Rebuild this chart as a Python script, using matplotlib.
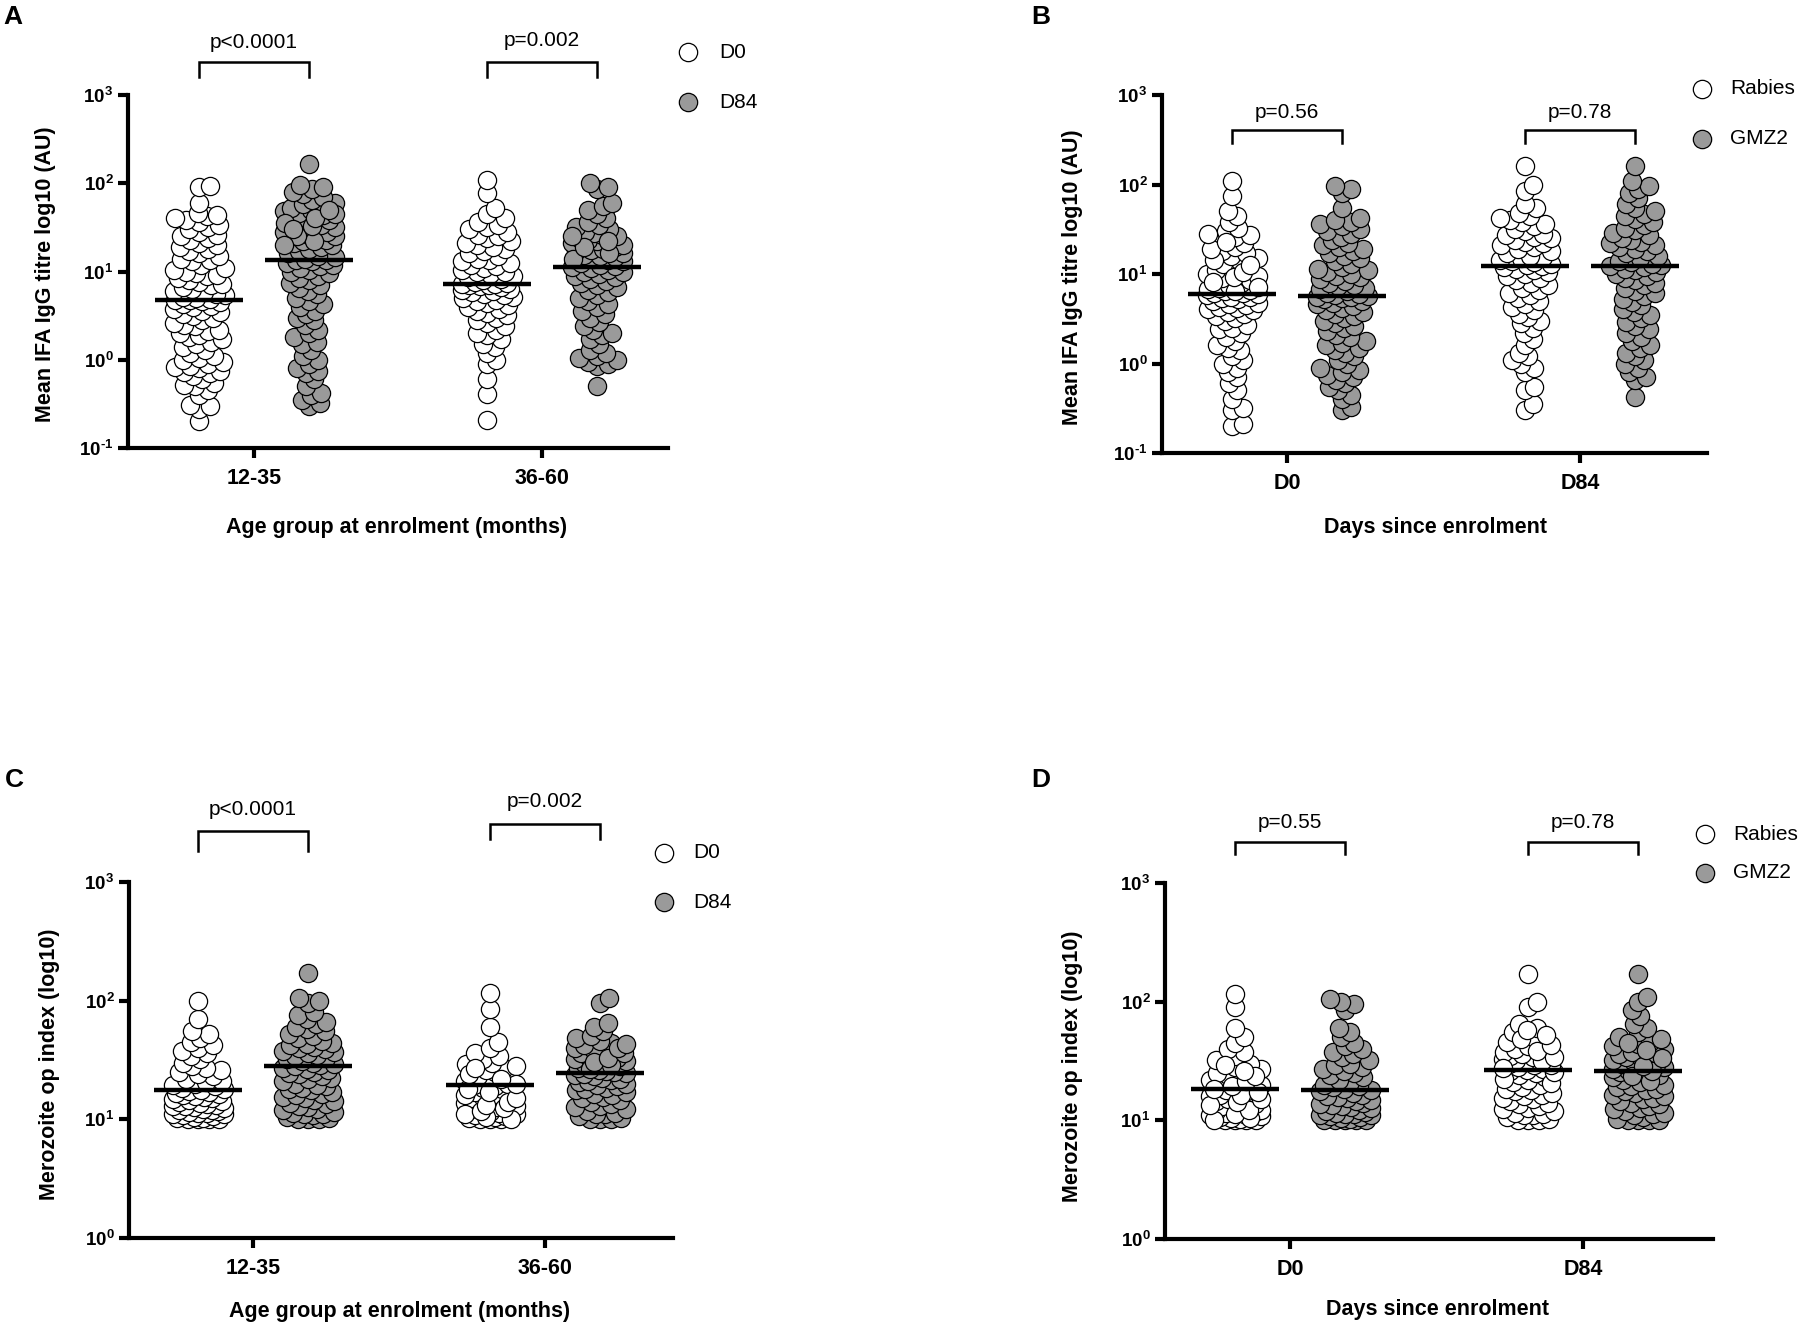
import numpy as np
import matplotlib
matplotlib.use('Agg')
import matplotlib.pyplot as plt
from matplotlib.ticker import NullLocator

plt.rcParams['font.family'] = ['Liberation Sans', 'DejaVu Sans']
plt.rcParams['mathtext.fontset'] = 'custom'
plt.rcParams['mathtext.rm'] = 'Liberation Sans:bold'
plt.rcParams['mathtext.bf'] = 'Liberation Sans:bold'
plt.rcParams['mathtext.it'] = 'Liberation Sans:bold'

# ---------------- data ----------------
age_groups = ['12-35', '36-60']
days = ['D0', 'D84']
legend_age = ['D0', 'D84']
legend_arm = ['Rabies', 'GMZ2']

# Panel A : mean IFA IgG titre (AU) by age group
A_d0_12_35 = [0.2, 0.28, 0.3, 0.31, 0.4, 0.45, 0.5, 0.52, 0.55, 0.6,
              0.65, 0.7, 0.72, 0.75, 0.8, 0.82, 0.85, 0.9, 0.95, 1.0,
              1.05, 1.1, 1.2, 1.3, 1.4, 1.5, 1.6, 1.7, 1.8, 1.9,
              2.0, 2.1, 2.2, 2.4, 2.5, 2.6, 2.8, 3.0, 3.1, 3.3,
              3.5, 3.6, 3.8, 4.0, 4.1, 4.3, 4.5, 4.6, 4.7, 4.8,
              4.9, 5.0, 5.2, 5.4, 5.6, 5.8, 6.0, 6.3, 6.6, 7.0,
              7.3, 7.6, 8.0, 8.5, 8.8, 9.2, 9.6, 10, 10.5, 11,
              12, 13, 13.5, 14, 15, 16, 17, 18, 19, 20,
              21, 23, 24, 25, 26, 28, 30, 32, 34, 36,
              38, 40, 42, 44, 46, 60, 90, 93]
A_d84_12_35 = [0.3, 0.32, 0.35, 0.4, 0.42, 0.5, 0.6, 0.7, 0.75, 0.8,
               0.9, 1.0, 1.1, 1.3, 1.5, 1.6, 1.8, 2.0, 2.2, 2.5,
               2.8, 3.0, 3.3, 3.6, 4.0, 4.3, 4.6, 5.0, 5.5, 6.0,
               6.5, 7.0, 7.5, 8.0, 8.5, 9.0, 9.5, 10, 10.5, 11,
               11.5, 12, 12.5, 13, 13.5, 13.5, 14, 14.5, 15, 16,
               17, 18, 19, 20, 21, 22, 23, 24, 25, 26,
               27, 28, 30, 32, 34, 36, 38, 40, 42, 44,
               46, 48, 50, 52, 55, 58, 60, 65, 70, 75,
               80, 85, 90, 95, 166, 22, 25, 28, 33, 35,
               40, 45, 50, 30, 20]
A_d0_36_60 = [0.21, 0.41, 0.6, 0.9, 1.0, 1.2, 1.4, 1.5, 1.7, 1.9,
              2.0, 2.2, 2.4, 2.6, 2.8, 3.0, 3.2, 3.4, 3.6, 3.8,
              4.0, 4.2, 4.4, 4.6, 4.8, 5.0, 5.2, 5.4, 5.6, 5.8,
              6.0, 6.2, 6.4, 6.6, 6.8, 7.0, 7.1, 7.2, 7.3, 7.5,
              7.7, 8.0, 8.3, 8.6, 9.0, 9.4, 9.8, 10, 10.5, 11,
              11.5, 12, 12.5, 13, 13.5, 14, 15, 16, 17, 18,
              19, 20, 21, 22, 24, 25, 26, 28, 30, 32,
              34, 36, 40, 45, 53, 78, 110]
A_d84_36_60 = [0.5, 0.85, 0.9, 0.95, 1.0, 1.05, 1.1, 1.2, 1.3, 1.5,
               1.7, 1.9, 2.0, 2.2, 2.4, 2.7, 3.0, 3.3, 3.6, 4.0,
               4.3, 4.6, 5.0, 5.4, 5.8, 6.2, 6.6, 7.0, 7.4, 7.8,
               8.2, 8.6, 9.0, 9.4, 9.8, 10, 10.5, 11, 11.3, 11.5,
               12, 12.5, 13, 13.5, 14, 14.5, 15, 15.5, 16, 17,
               17.5, 18, 19, 20, 21, 22, 23, 24, 25, 26,
               27, 28, 30, 32, 34, 36, 40, 45, 50, 55,
               60, 85, 90, 100, 14, 16, 19, 22, 25]
A_lines = [4.8, 13.5, 7.2, 11.3]

# Panel B : mean IFA IgG titre (AU) by arm
B_rab_d0 = [0.2, 0.21, 0.3, 0.32, 0.4, 0.5, 0.6, 0.7, 0.8, 0.9,
            1.0, 1.1, 1.2, 1.4, 1.5, 1.6, 1.8, 2.0, 2.2, 2.4,
            2.5, 2.7, 3.0, 3.2, 3.4, 3.6, 3.8, 4.0, 4.1, 4.2,
            4.3, 4.5, 4.6, 4.8, 5.0, 5.2, 5.4, 5.5, 5.6, 5.8,
            6.0, 6.1, 6.2, 6.4, 6.6, 6.8, 7.0, 7.5, 8.0, 8.5,
            9.0, 9.5, 10, 11, 12, 13, 14, 15, 16, 17,
            18, 20, 22, 24, 26, 27, 30, 33, 38, 45,
            50, 74, 110, 6.5, 7.2, 8.2, 9.2, 10.5, 12.5, 14.5,
            19, 23, 28]
B_gmz_d0 = [0.3, 0.33, 0.4, 0.45, 0.5, 0.55, 0.6, 0.65, 0.7, 0.75,
            0.8, 0.85, 0.9, 1.0, 1.1, 1.2, 1.3, 1.4, 1.5, 1.6,
            1.7, 1.8, 2.0, 2.1, 2.3, 2.5, 2.6, 2.8, 3.0, 3.2,
            3.4, 3.6, 3.8, 4.0, 4.2, 4.4, 4.6, 4.8, 5.0, 5.2,
            5.4, 5.5, 5.6, 5.7, 5.8, 6.0, 6.2, 6.5, 6.8, 7.0,
            7.3, 7.6, 8.0, 8.4, 8.8, 9.2, 9.6, 10, 10.5, 11,
            11.5, 12, 13, 14, 15, 16, 17, 18, 19, 20,
            21, 22, 24, 26, 28, 30, 32, 34, 36, 38,
            40, 42, 55, 80, 90, 95]
B_rab_d84 = [0.3, 0.35, 0.5, 0.55, 0.8, 0.9, 1.0, 1.1, 1.2, 1.3,
             1.6, 1.9, 2.2, 2.5, 2.8, 3.0, 3.3, 3.6, 4.0, 4.3,
             4.6, 5.0, 5.4, 5.8, 6.2, 6.6, 7.0, 7.5, 8.0, 8.5,
             9.0, 9.5, 10, 10.5, 11, 11.5, 12, 12.3, 12.6, 13,
             13.5, 14, 14.5, 15, 15.5, 16, 17, 18, 19, 20,
             21, 22, 23, 24, 25, 26, 27, 28, 30, 32,
             34, 36, 38, 40, 42, 45, 48, 55, 60, 85,
             100, 160]
B_gmz_d84 = [0.42, 0.65, 0.7, 0.8, 0.9, 1.0, 1.1, 1.2, 1.3, 1.5,
             1.6, 1.8, 2.0, 2.2, 2.4, 2.6, 2.9, 3.2, 3.5, 3.8,
             4.1, 4.5, 4.9, 5.3, 5.7, 6.1, 6.5, 7.0, 7.5, 8.0,
             8.5, 9.0, 9.5, 10, 10.5, 11, 11.5, 12, 12.3, 12.6,
             13, 13.5, 14, 15, 16, 17, 18, 19, 20, 21,
             22, 23, 24, 25, 27, 29, 31, 33, 35, 38,
             41, 44, 47, 50, 55, 60, 70, 80, 90, 95,
             110, 160]
B_lines = [6.0, 5.7, 12.3, 12.3]

# Panel C : merozoite opsonic phagocytosis index by age group
C_d0_12_35 = [10, 10, 10, 10, 10.2, 10.3, 10.5, 10.6, 10.8, 11,
              11, 11.2, 11.4, 11.5, 11.7, 12, 12, 12.2, 12.5, 12.8,
              13, 13, 13.3, 13.5, 13.8, 14, 14.2, 14.5, 14.8, 15,
              15.3, 15.6, 16, 16.3, 16.7, 17, 17.3, 17.6, 18, 18.5,
              19, 19.5, 20, 20.5, 21, 22, 23, 24, 25, 26,
              27, 28, 30, 32, 34, 36, 38, 40, 42, 45,
              48, 52, 55, 70, 100]
C_d84_12_35 = [10, 10, 10, 10.2, 10.5, 10.8, 11, 11, 11.3, 11.6,
               12, 12.3, 12.6, 13, 13.4, 13.8, 14.2, 14.6, 15, 15.5,
               16, 16.5, 17, 17.5, 18, 18.5, 19, 19.5, 20, 21,
               22, 22.5, 23, 24, 24.5, 25, 26, 26.5, 27, 28,
               28.5, 29, 30, 31, 32, 33, 34, 35, 36, 37,
               38, 39, 40, 41, 42, 43, 44, 46, 48, 50,
               52, 55, 58, 60, 63, 66, 70, 75, 80, 95,
               100, 105, 170]
C_d0_36_60 = [10, 10, 10, 10.2, 10.4, 10.6, 10.8, 11, 11.3, 11.6,
              12, 12.3, 12.7, 13, 13.4, 13.8, 14.2, 14.6, 15, 15.5,
              16, 16.5, 17, 17.5, 18, 18.5, 19, 19.5, 20, 21,
              22, 23, 24, 25, 26, 27, 28, 29, 30, 32,
              34, 36, 40, 45, 60, 85, 115, 10.1, 10.5, 11.1,
              11.8, 12.5, 13.2, 14, 15, 16, 17, 18, 20, 22,
              24, 27]
C_d84_36_60 = [10, 10, 10, 10.3, 10.6, 11, 11, 11.4, 11.8, 12.2,
               12.6, 13, 13.5, 14, 14.5, 15, 15.5, 16, 16.5, 17,
               17.5, 18, 18.5, 19, 19.5, 20, 20.5, 21, 21.5, 22,
               22.5, 23, 23.5, 24, 24.5, 25, 25.5, 26, 27, 28,
               29, 30, 31, 32, 33, 34, 35, 36, 37, 38,
               39, 40, 42, 44, 46, 48, 50, 55, 60, 65,
               95, 105, 26.5, 28.5, 30.5, 33, 36, 40, 43]
C_lines = [17.5, 28, 19.5, 24.5]

# Panel D : merozoite opsonic phagocytosis index by arm
D_rab_d0 = [10, 10, 10, 10, 10.2, 10.4, 10.6, 10.8, 11, 11.2,
            11.5, 11.8, 12, 12.3, 12.6, 13, 13.3, 13.7, 14, 14.5,
            15, 15.5, 16, 16.5, 17, 17.5, 18, 18.5, 19, 20,
            21, 22, 23, 24, 25, 27, 28, 30, 32, 35,
            38, 40, 45, 50, 60, 90, 115, 10.1, 10.5, 11.4,
            12.2, 13.5, 14.2, 15.2, 16.2, 17.2, 18.2, 19.5, 21.5, 23.5,
            26, 29]
D_gmz_d0 = [10, 10, 10, 10, 10.1, 10.2, 10.4, 10.6, 10.8, 11,
            11, 11.2, 11.4, 11.6, 11.8, 12, 12.3, 12.6, 12.9, 13.2,
            13.5, 13.8, 14.1, 14.5, 14.9, 15.3, 15.7, 16.1, 16.5, 17,
            17.5, 18, 18.5, 19, 19.5, 20, 21, 22, 23, 24,
            25, 26, 27, 28, 29, 30, 32, 34, 36, 38,
            40, 42, 45, 50, 55, 60, 85, 95, 100, 105]
D_rab_d84 = [10, 10, 10, 10.3, 10.6, 11, 11, 11.3, 11.6, 12,
             12.4, 12.8, 13.2, 13.6, 14, 14.5, 15, 15.5, 16, 16.5,
             17, 17.5, 18, 18.5, 19, 20, 21, 22, 23, 24,
             25, 26, 26.5, 27, 28, 29, 30, 31, 32, 33,
             34, 35, 36, 37, 38, 40, 42, 44, 46, 50,
             55, 60, 65, 90, 100, 170, 20.5, 22.5, 25.5, 27.5,
             29.5, 31.5, 34.5, 38.5, 43, 48, 52, 58]
D_gmz_d84 = [10, 10, 10, 10, 10.3, 10.6, 11, 11.3, 11.6, 12,
             12.4, 12.8, 13.2, 13.6, 14, 14.5, 15, 15.5, 16, 16.5,
             17, 17.5, 18, 18.5, 19, 19.5, 20, 21, 22, 23,
             24, 25, 25.5, 26, 26.5, 27, 28, 29, 30, 31,
             32, 33, 34, 35, 36, 37, 38, 40, 42, 44,
             46, 48, 50, 55, 60, 65, 75, 85, 100, 110,
             170, 21.5, 23.5, 25.8, 28.5, 33.5, 39, 45]
D_lines = [18.5, 18.0, 26.5, 26.0]

pvals_A = ['p<0.0001', 'p=0.002']
pvals_B = ['p=0.56', 'p=0.78']
pvals_C = ['p<0.0001', 'p=0.002']
pvals_D = ['p=0.55', 'p=0.78']

# ---------------- styling / layout ----------------
W, H = 1801, 1325
fig = plt.figure(figsize=(W / 100, H / 100), dpi=100)
WHITE, GREY = '#ffffff', '#9a9a9a'
MS = 172  # marker area (pt^2)


def fx(x):
    return x / W


def fy(y):
    return 1 - y / H


def swarm(ypx, thr=9.5, maxw=26.0, step=1.5):
    n = len(ypx)
    order = np.argsort(ypx, kind='stable')
    cands = [0.0]
    k = 1
    while k * step <= maxw + 1e-9:
        cands += [k * step, -k * step]
        k += 1
    cands = np.array(cands)
    px, py = [], []
    out = np.zeros(n)
    for i in order:
        y = ypx[i]
        c = 0.0
        if px:
            PX = np.array(px)
            PY = np.array(py)
            near = np.abs(PY - y) < thr
            if near.any():
                dist = np.sqrt((cands[:, None] - PX[near][None, :]) ** 2 +
                               (y - PY[near][None, :]) ** 2).min(axis=1)
                ok = np.where(dist >= thr)[0]
                c = cands[ok[0]] if len(ok) else cands[np.argmax(dist)]
        out[i] = c
        px.append(c)
        py.append(y)
    return out


def panel(rect, cat_px, cat_labels, groups, lines, ylim, exps, ylabel, ylab_pos,
          xlabel, xlab_pos, letter, letter_pos, leg_labels, leg_pts, leg_tx,
          brackets, pvals):
    xl, xr, yt, yb = rect
    ax = fig.add_axes([fx(xl), fy(yb), (xr - xl) / W, (yb - yt) / H])
    ax.set_yscale('log')
    ax.set_ylim(*ylim)
    p0, p1 = cat_px
    u = float(p1 - p0)
    ax.set_xlim((xl - p0) / u, (xr - p0) / u)
    off = 55.0 / u
    centers = []
    for gi, vals in enumerate(groups):
        cat = gi // 2
        side = -1 if gi % 2 == 0 else 1
        face = WHITE if gi % 2 == 0 else GREY
        xc = cat + side * off
        centers.append(xc)
        v = np.asarray(vals, dtype=float)
        ypx = ax.transData.transform(np.column_stack([np.full(len(v), xc), v]))[:, 1]
        dx = swarm(ypx)
        ax.scatter(xc + dx / u, v, s=MS, facecolor=face, edgecolor='black',
                   linewidths=0.9, zorder=3, clip_on=False)
        ax.plot([xc - 44 / u, xc + 44 / u], [lines[gi]] * 2, color='black',
                lw=3.2, zorder=5, solid_capstyle='butt')
    # axes style
    for s in ['top', 'right']:
        ax.spines[s].set_visible(False)
    for s in ['left', 'bottom']:
        ax.spines[s].set_linewidth(3)
        ax.spines[s].set_capstyle('projecting')
    ax.set_xticks([0, 1])
    ax.set_xticklabels(cat_labels, fontsize=15.5, fontweight='bold')
    ax.set_yticks([10.0 ** e for e in exps])
    labs = []
    for e in exps:
        if e < 0:
            labs.append(r'$\mathbf{10^{\text{-}%d}}$' % (-e))
        else:
            labs.append(r'$\mathbf{10^{%d}}$' % e)
    ax.set_yticklabels(labs, fontsize=13.5)
    ax.yaxis.set_minor_locator(NullLocator())
    ax.tick_params(axis='x', length=7.5, width=3, pad=7)
    ax.tick_params(axis='y', length=7.5, width=3, pad=3)
    # labels
    fig.text(fx(ylab_pos[0]), fy(ylab_pos[1]), ylabel, rotation=90, ha='center',
             va='center', fontsize=15.5, fontweight='bold')
    fig.text(fx(xlab_pos[0]), fy(xlab_pos[1]), xlabel, ha='center', va='center',
             fontsize=15.5, fontweight='bold')
    fig.text(fx(letter_pos[0]), fy(letter_pos[1]), letter, ha='left', va='center',
             fontsize=19, fontweight='bold')
    # brackets
    tr = ax.get_xaxis_transform()
    for k, (ytop, ybot, ytxt) in enumerate(brackets):
        a, b = centers[2 * k], centers[2 * k + 1]
        ft = (yb - ytop) / (yb - yt)
        fb = (yb - ybot) / (yb - yt)
        ftx = (yb - ytxt) / (yb - yt)
        ax.plot([a, a, b, b], [fb, ft, ft, fb], transform=tr, color='black',
                lw=1.8, clip_on=False, solid_joinstyle='miter')
        ax.text((a + b) / 2, ftx, pvals[k], transform=tr, ha='center',
                va='center', fontsize=15)
    # legend
    for lab, (mx, my), face in zip(leg_labels, leg_pts, [WHITE, GREY]):
        fig.add_artist(plt.Line2D([fx(mx)], [fy(my)], marker='o', markersize=13.2,
                                  markerfacecolor=face, markeredgecolor='black',
                                  markeredgewidth=0.9, linestyle='none',
                                  transform=fig.transFigure))
        fig.text(fx(leg_tx), fy(my), lab, ha='left', va='center', fontsize=15)
    return ax


panel(rect=(128, 668, 95, 448), cat_px=(254, 542), cat_labels=age_groups,
      groups=[A_d0_12_35, A_d84_12_35, A_d0_36_60, A_d84_36_60], lines=A_lines,
      ylim=(0.1, 1000), exps=[-1, 0, 1, 2, 3],
      ylabel='Mean IFA IgG titre log10 (AU)', ylab_pos=(46, 274),
      xlabel='Age group at enrolment (months)', xlab_pos=(397, 527),
      letter='A', letter_pos=(3, 17), leg_labels=legend_age,
      leg_pts=[(688, 52), (688, 102)], leg_tx=719,
      brackets=[(62, 77, 42), (62, 77, 40)], pvals=pvals_A)

panel(rect=(1162, 1707, 95, 453), cat_px=(1287, 1580), cat_labels=days,
      groups=[B_rab_d0, B_gmz_d0, B_rab_d84, B_gmz_d84], lines=B_lines,
      ylim=(0.1, 1000), exps=[-1, 0, 1, 2, 3],
      ylabel='Mean IFA IgG titre log10 (AU)', ylab_pos=(1072, 277),
      xlabel='Days since enrolment', xlab_pos=(1435, 527),
      letter='B', letter_pos=(1031, 17), leg_labels=legend_arm,
      leg_pts=[(1702, 89), (1702, 139)], leg_tx=1730,
      brackets=[(130, 143, 112), (130, 143, 112)], pvals=pvals_B)

panel(rect=(129, 673, 882, 1238), cat_px=(253, 545), cat_labels=age_groups,
      groups=[C_d0_12_35, C_d84_12_35, C_d0_36_60, C_d84_36_60], lines=C_lines,
      ylim=(1, 1000), exps=[0, 1, 2, 3],
      ylabel='Merozoite op index (log10)', ylab_pos=(49, 1064),
      xlabel='Age group at enrolment (months)', xlab_pos=(400, 1312),
      letter='C', letter_pos=(5, 780), leg_labels=legend_age,
      leg_pts=[(664, 853), (664, 902)], leg_tx=693,
      brackets=[(831, 851, 810), (824, 839, 802)], pvals=pvals_C)

panel(rect=(1165, 1713, 883, 1239), cat_px=(1290, 1583), cat_labels=days,
      groups=[D_rab_d0, D_gmz_d0, D_rab_d84, D_gmz_d84], lines=D_lines,
      ylim=(1, 1000), exps=[0, 1, 2, 3],
      ylabel='Merozoite op index (log10)', ylab_pos=(1072, 1066),
      xlabel='Days since enrolment', xlab_pos=(1438, 1309),
      letter='D', letter_pos=(1031, 780), leg_labels=legend_arm,
      leg_pts=[(1705, 834), (1705, 873)], leg_tx=1733,
      brackets=[(842, 854, 822), (842, 854, 822)], pvals=pvals_D)

fig.savefig('out.png', dpi=100)
